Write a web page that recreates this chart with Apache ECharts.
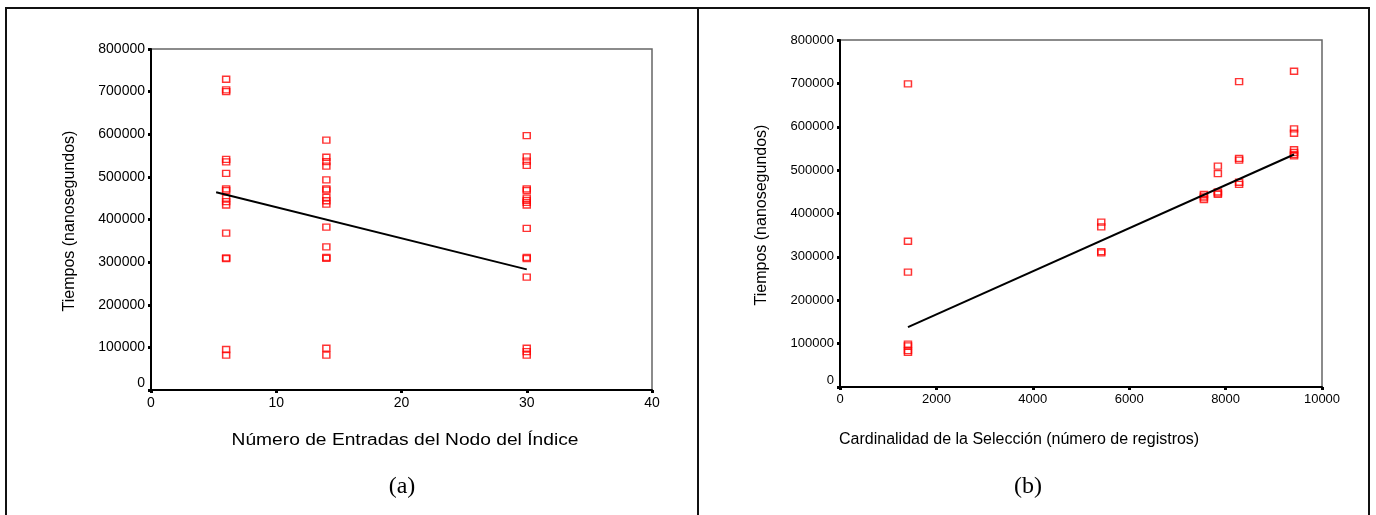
<!DOCTYPE html>
<html>
<head>
<meta charset="utf-8">
<script src="https://cdn.jsdelivr.net/npm/echarts@6/dist/echarts.min.js"></script>
<style>
  html, body { margin: 0; padding: 0; background: #fff; }
  #grafico { width: 1376px; height: 515px; }
</style>
</head>
<body>
<div id="grafico"></div>
<script>
// (a) tiempos por número de entradas del nodo
var entradas = [6, 14, 30];
var tiemposE6 = [729000, 704000, 700000, 541000, 535000, 508000, 472000, 468000, 450000, 442000, 434000, 368000, 310000, 308000, 95000, 82000];
var tiemposE14 = [586000, 546000, 536000, 525000, 493000, 472000, 469000, 452000, 444000, 436000, 382000, 336000, 311000, 309000, 98000, 82000];
var tiemposE30 = [597000, 547000, 537000, 527000, 472000, 468000, 450000, 445000, 440000, 434000, 379000, 311000, 308000, 265000, 98000, 90000, 82000];
var ajusteA_x = [5.2, 30];
var ajusteA_y = [464000, 283000];

// (b) tiempos por cardinalidad de la selección
var cardinalidad = [1410, 5420, 7550, 7840, 8280, 9420];
var tiemposC1 = [699000, 336000, 265000, 99000, 95000, 84000, 80000];
var tiemposC2 = [380000, 369000, 312000, 309000];
var tiemposC3 = [444000, 440000, 436000, 432000];
var tiemposC4 = [509000, 492000, 450000, 447000, 444000];
var tiemposC5 = [704000, 527000, 523000, 472000, 467000];
var tiemposC6 = [728000, 595000, 585000, 547000, 541000, 536000, 533000];
var ajusteB_x = [1410, 9420];
var ajusteB_y = [138000, 536000];

// ticks
var ticksY = [0, 800000, 100000];
var ticksXA = [0, 40, 10];
var ticksXB = [0, 10000, 2000];

function pares(xs, grupos) {
    var out = [];
    for (var i = 0; i < xs.length; i++) {
        grupos[i].forEach(function (v) { out.push([xs[i], v]); });
    }
    return out;
}
function linea(xs, ys) {
    return xs.map(function (x, i) { return [x, ys[i]]; });
}

var puntosA = pares(entradas, [tiemposE6, tiemposE14, tiemposE30]);
var puntosB = pares(cardinalidad, [tiemposC1, tiemposC2, tiemposC3, tiemposC4, tiemposC5, tiemposC6]);

var sans = "'Liberation Sans', Arial, sans-serif";
var serif = "'Liberation Serif', 'Times New Roman', serif";

function ejeY(size) {
    return {
        type: 'value', min: ticksY[0], max: ticksY[1], interval: ticksY[2],
        axisLine: {show: true, lineStyle: {color: '#000', width: 2}},
        axisTick: {show: true, length: 3, lineStyle: {color: '#000', width: 3}},
        splitLine: {show: false},
        axisLabel: {
            color: '#000', fontFamily: sans, fontSize: size, margin: 6,
            // el 0 va un poco más arriba, como en el original
            formatter: function (v) { return v === 0 ? '0\n' : String(v); }
        }
    };
}
function ejeX(t, size, gridIndex) {
    return {
        type: 'value', gridIndex: gridIndex, min: t[0], max: t[1], interval: t[2],
        axisLine: {show: true, onZero: false, lineStyle: {color: '#000', width: 2}},
        axisTick: {show: true, length: 3, lineStyle: {color: '#000', width: 3}},
        splitLine: {show: false},
        axisLabel: {
            color: '#000', fontFamily: sans, fontSize: size, margin: 6,
            formatter: function (v) { return String(v); }
        }
    };
}

var marcador = {
    symbol: 'rect', symbolSize: [7, 6],
    itemStyle: {color: 'rgba(0,0,0,0)', borderColor: '#ff0000', borderWidth: 1.4}
};

var chart = echarts.init(document.getElementById('grafico'));
var yA = ejeY(14); yA.gridIndex = 0;
var yB = ejeY(13); yB.gridIndex = 1;

chart.setOption({
    animation: false,
    backgroundColor: '#fff',
    grid: [
        {left: 151, top: 49, width: 501, height: 341, show: true, borderColor: '#666', borderWidth: 1.5, backgroundColor: 'transparent'},
        {left: 840, top: 40, width: 482, height: 347, show: true, borderColor: '#666', borderWidth: 1.5, backgroundColor: 'transparent'}
    ],
    xAxis: [ejeX(ticksXA, 14, 0), ejeX(ticksXB, 13, 1)],
    yAxis: [yA, yB],
    series: [
        Object.assign({type: 'scatter', xAxisIndex: 0, yAxisIndex: 0, data: puntosA}, marcador),
        {type: 'line', xAxisIndex: 0, yAxisIndex: 0, data: linea(ajusteA_x, ajusteA_y), symbol: 'none',
            lineStyle: {color: '#000', width: 2}, silent: true},
        Object.assign({type: 'scatter', xAxisIndex: 1, yAxisIndex: 1, data: puntosB}, marcador),
        {type: 'line', xAxisIndex: 1, yAxisIndex: 1, data: linea(ajusteB_x, ajusteB_y), symbol: 'none',
            lineStyle: {color: '#000', width: 2}, silent: true}
    ],
    graphic: [
        // marco
        {type: 'polyline', shape: {points: [[6, 515], [6, 8], [1369, 8], [1369, 515]]}, style: {stroke: '#111', lineWidth: 2, fill: null}},
        {type: 'line', shape: {x1: 698, y1: 8, x2: 698, y2: 515}, style: {stroke: '#111', lineWidth: 2}},
        // títulos de ejes
        {type: 'text', x: 70, y: 221, rotation: Math.PI / 2,
            style: {text: 'Tiempos (nanosegundos)', font: '16px ' + sans, fill: '#000', textAlign: 'center', textVerticalAlign: 'middle'}},
        {type: 'text', x: 405, y: 441, scaleX: 1.2,
            style: {text: 'Número de Entradas del Nodo del Índice', font: '16px ' + sans, fill: '#000', textAlign: 'center', textVerticalAlign: 'middle'}},
        {type: 'text', x: 762, y: 215, rotation: Math.PI / 2,
            style: {text: 'Tiempos (nanosegundos)', font: '16px ' + sans, fill: '#000', textAlign: 'center', textVerticalAlign: 'middle'}},
        {type: 'text', x: 839, y: 440,
            style: {text: 'Cardinalidad de la Selección (número de registros)', font: '16px ' + sans, fill: '#000', textAlign: 'left', textVerticalAlign: 'middle'}},
        // rótulos (a) y (b)
        {type: 'text', x: 402, y: 487,
            style: {text: '(a)', font: '24px ' + serif, fill: '#000', textAlign: 'center', textVerticalAlign: 'middle'}},
        {type: 'text', x: 1028, y: 487,
            style: {text: '(b)', font: '24px ' + serif, fill: '#000', textAlign: 'center', textVerticalAlign: 'middle'}}
    ]
});
</script>
</body>
</html>
